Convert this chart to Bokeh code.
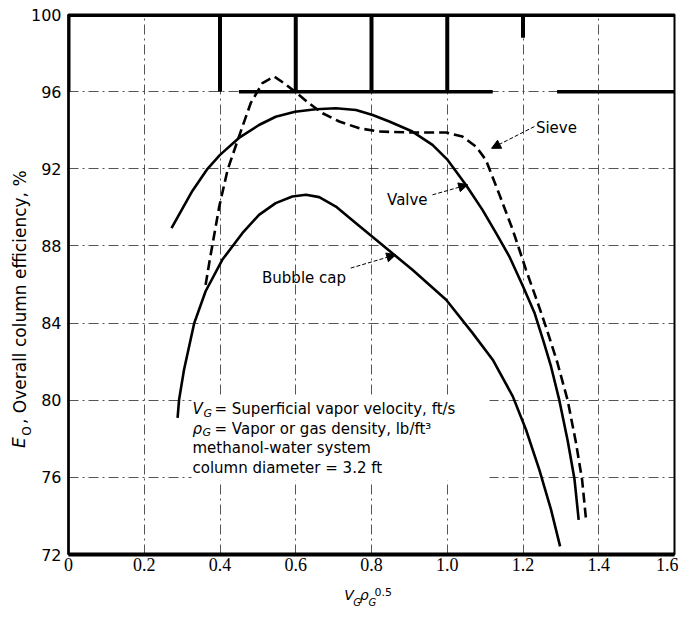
from bokeh.plotting import figure
from bokeh.models import (Range1d, FixedTicker, Label, LinearAxis, Arrow, NormalHead,
                          BoxAnnotation, Span)
from bokeh.embed import file_html
from bokeh.resources import INLINE

# ---------------- data ----------------
x_ticks = [0.0, 0.2, 0.4, 0.6, 0.8, 1.0, 1.2, 1.4, 1.6]
x_tick_labels = ["0", "0.2", "0.4", "0.6", "0.8", "1.0", "1.2", "1.4", "1.6"]
y_ticks = [72, 76, 80, 84, 88, 92, 96, 100]
y_tick_labels = ["72", "76", "80", "84", "88", "92", "96", "100"]

valve_x = [0.272, 0.327, 0.367, 0.400, 0.450, 0.503, 0.547, 0.598, 0.653, 0.706,
           0.759, 0.803, 0.847, 0.908, 0.961, 1.001, 1.049, 1.093, 1.129, 1.164,
           1.199, 1.230, 1.255, 1.274, 1.296, 1.318, 1.336, 1.347]
valve_y = [88.92, 90.85, 92.00, 92.72, 93.60, 94.27, 94.70, 94.96, 95.09, 95.14,
           95.05, 94.79, 94.45, 93.93, 93.24, 92.46, 91.17, 89.87, 88.66, 87.45,
           85.95, 84.55, 83.00, 81.75, 79.99, 77.90, 75.90, 73.80]

sieve_x = [0.362, 0.373, 0.398, 0.420, 0.450, 0.481, 0.512, 0.543, 0.569, 0.598,
           0.635, 0.671, 0.715, 0.768, 0.820, 0.908, 0.997, 1.040, 1.076, 1.102,
           1.137, 1.173, 1.208, 1.239, 1.261, 1.291, 1.318, 1.340, 1.356, 1.366]
sieve_y = [85.98, 87.28, 90.04, 91.94, 93.67, 95.40, 96.44, 96.78, 96.44, 96.00,
           95.40, 94.88, 94.45, 94.10, 93.93, 93.88, 93.88, 93.67, 93.15, 92.46,
           90.70, 88.83, 86.76, 85.04, 83.78, 81.93, 79.99, 77.78, 75.88, 73.90]

bubble_x = [0.288, 0.292, 0.305, 0.332, 0.362, 0.406, 0.459, 0.503, 0.547, 0.591,
            0.627, 0.662, 0.706, 0.759, 0.812, 0.908, 0.997, 1.067, 1.120, 1.173,
            1.208, 1.243, 1.274, 1.298]
bubble_y = [79.08, 80.03, 81.58, 84.00, 85.65, 87.28, 88.66, 89.61, 90.22, 90.56,
            90.65, 90.53, 90.04, 89.18, 88.32, 86.76, 85.21, 83.48, 82.10, 80.20,
            78.47, 76.40, 74.33, 72.42]

# curve name labels (text position) and their leader arrows (start -> end)
curve_names = ["Sieve", "Valve", "Bubble cap"]
name_x = [1.234, 0.841, 0.511]
name_y = [94.12, 90.40, 86.32]
arrow_x0 = [1.230, 0.961, 0.745]
arrow_y0 = [94.19, 90.65, 86.85]
arrow_x1 = [1.117, 1.054, 0.864]
arrow_y1 = [93.06, 91.17, 87.54]

# heavy rules seen in the upper band of the printed chart
heavy_vx = [0.0, 0.4, 0.6, 0.8, 1.0, 1.2]
heavy_vy0 = [96.0, 96.0, 96.0, 96.0, 96.0, 98.8]
heavy_vy1 = [100.0] * 6
heavy_hx0 = [0.45, 1.29]
heavy_hx1 = [1.12, 1.6]
heavy_hy = [96.0, 96.0]

notes = ["methanol-water system", "column diameter = 3.2 ft"]

# axis-title pieces (text only; placement is set in the layout code below)
xt_main = ["V", "\u03c1"]
xt_sub = ["G", "G"]
xt_sup = ["0.5"]
yt_sym = ["E"]
yt_sub = ["O"]
yt_rest = [", Overall column efficiency, %"]

# ---------------- figure ----------------
SANS = "DejaVu Sans"
SERIF = "Liberation Serif"

p = figure(width=678, height=614, x_range=Range1d(0, 1.6), y_range=Range1d(72, 100),
           output_backend="svg", toolbar_location=None,
           min_border_left=68, min_border_right=4, min_border_top=14, min_border_bottom=60)
p.background_fill_color = "white"
p.border_fill_color = "white"
p.outline_line_color = "black"
p.outline_line_width = 2

# grid
p.xgrid.ticker = FixedTicker(ticks=x_ticks[1:-1])
p.ygrid.ticker = FixedTicker(ticks=y_ticks[1:-1])
for g in (p.xgrid, p.ygrid):
    g.grid_line_color = "#2a2a2a"
    g.grid_line_width = 1
    g.grid_line_dash = "10 4 2 4"
    g.grid_line_alpha = 0.8

# axes
p.xaxis.ticker = FixedTicker(ticks=x_ticks)
p.xaxis.major_label_overrides = dict(zip(x_ticks, x_tick_labels))
p.yaxis.ticker = FixedTicker(ticks=y_ticks)
p.yaxis.major_label_overrides = dict(zip(y_ticks, y_tick_labels))
for ax in (p.xaxis, p.yaxis):
    ax.major_tick_in = 0
    ax.major_tick_out = 0
    ax.minor_tick_in = 0
    ax.minor_tick_out = 0
    ax.axis_line_color = "black"
    ax.major_label_text_color = "black"
p.xaxis.axis_line_width = 4
p.yaxis.axis_line_width = 2.5
p.xaxis.major_label_text_font = SERIF
p.xaxis.major_label_text_font_size = "18px"
p.xaxis.major_label_standoff = 3
p.yaxis.major_label_text_font = SANS
p.yaxis.major_label_text_font_size = "16px"
p.yaxis.major_label_standoff = 7


def title_axis(side, ticks, texts, size, style, standoff, orientation="horizontal"):
    ax = LinearAxis(ticker=FixedTicker(ticks=ticks),
                    major_label_overrides=dict(zip(ticks, texts)),
                    axis_line_color=None, major_tick_in=0, major_tick_out=0,
                    minor_tick_in=0, minor_tick_out=0,
                    major_label_text_font=SANS, major_label_text_font_size=size,
                    major_label_text_font_style=style, major_label_text_color="black",
                    major_label_standoff=standoff, major_label_orientation=orientation)
    p.add_layout(ax, side)


# x title  V_G rho_G^0.5  built from stacked label rows below the tick labels
title_axis("below", [0.831], xt_sup, "11px", "normal", 14)
title_axis("below", [0.741, 0.781], xt_main, "14px", "italic", -12)
title_axis("below", [0.762, 0.802], xt_sub, "10px", "italic", -9)

# y title  E_O, Overall column efficiency, %
title_axis("left", [78.40], yt_sub, "12px", "normal", -7, "parallel")
title_axis("left", [77.80], yt_sym, "17px", "italic", -12, "parallel")
title_axis("left", [85.34], yt_rest, "17px", "normal", -24, "parallel")

# top heavy border
p.add_layout(Span(location=100, dimension="width", line_color="black", line_width=5))

# heavy rules in band
p.segment(x0=heavy_vx, y0=heavy_vy0, x1=heavy_vx, y1=heavy_vy1, line_color="black", line_width=4)
p.segment(x0=heavy_hx0, y0=heavy_hy, x1=heavy_hx1, y1=heavy_hy, line_color="black", line_width=3.5)

# white box behind the note text
p.add_layout(BoxAnnotation(left=123, right=421, top=158, bottom=74,
                           left_units="screen", right_units="screen",
                           top_units="screen", bottom_units="screen",
                           fill_color="white", fill_alpha=1.0, line_alpha=0,
                           level="guide"))

# curves
p.line(valve_x, valve_y, line_color="black", line_width=2.6)
p.line(bubble_x, bubble_y, line_color="black", line_width=2.6)
p.line(sieve_x, sieve_y, line_color="black", line_width=2.6, line_dash="10 5")

# curve names and arrows
for name, nx, ny in zip(curve_names, name_x, name_y):
    p.add_layout(Label(x=nx, y=ny, text=name, text_font=SANS, text_font_size="15px",
                       text_color="black", text_baseline="alphabetic", text_align="left"))
for xs, ys, xe, ye in zip(arrow_x0, arrow_y0, arrow_x1, arrow_y1):
    p.add_layout(Arrow(end=NormalHead(size=9, fill_color="black", line_color="black", line_width=1),
                       x_start=xs, y_start=ys, x_end=xe, y_end=ye,
                       line_color="black", line_width=1, line_dash="4 2"))


def lab(x, y, text, size="15px", style="normal"):
    p.add_layout(Label(x=x, y=y, x_units="screen", y_units="screen", text=text,
                       text_font=SANS, text_font_size=size, text_font_style=style,
                       text_color="black", text_baseline="alphabetic", text_align="left"))


# note block (inside the frame)
lab(124, 145.5, "V", style="italic")
lab(135, 141.5, "G", size="11px", style="italic")
lab(146, 145.5, "= Superficial vapor velocity, ft/s")
lab(124, 126, "\u03c1", style="italic")
lab(134, 122, "G", size="11px", style="italic")
lab(146, 126, "= Vapor or gas density, lb/ft\u00b3")
lab(124, 106.5, notes[0])
lab(124, 87, notes[1])

open("out.html", "w").write(file_html(p, INLINE))
